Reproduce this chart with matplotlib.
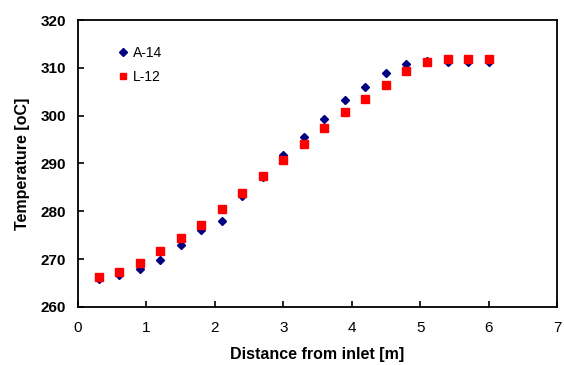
import matplotlib
matplotlib.use("Agg")
import matplotlib.pyplot as plt

distance = [0.3, 0.6, 0.9, 1.2, 1.5, 1.8, 2.1, 2.4, 2.7, 3.0,
            3.3, 3.6, 3.9, 4.2, 4.5, 4.8, 5.1, 5.4, 5.7, 6.0]
a14 = [265.8, 266.7, 267.9, 269.9, 272.9, 276.1, 278.0, 283.3, 287.2, 291.7,
       295.5, 299.2, 303.2, 306.0, 309.0, 310.9, 311.5, 311.3, 311.3, 311.3]
l12 = [266.2, 267.3, 269.2, 271.7, 274.5, 277.2, 280.4, 283.9, 287.3, 290.8,
       294.1, 297.4, 300.8, 303.5, 306.5, 309.4, 311.2, 311.9, 311.9, 311.9]

xticks = [0, 1, 2, 3, 4, 5, 6, 7]
yticks = [260, 270, 280, 290, 300, 310, 320]

plt.rcParams['font.family'] = ['Liberation Sans', 'DejaVu Sans']

fig = plt.figure(figsize=(5.64, 3.65), dpi=100)
ax = fig.add_axes([78/564, 1-307/365, (557-78)/564, (307-20)/365])

ax.plot(distance, a14, linestyle='none', marker='D', color='#000080',
        markersize=4.4, label='A-14')
ax.plot(distance, l12, linestyle='none', marker='s', color='#ff0000',
        markersize=5.4, label='L-12')

ax.set_xlim(0, 7)
ax.set_ylim(260, 320)
ax.set_xticks(xticks)
ax.set_yticks(yticks)
ax.tick_params(axis='both', direction='in', length=4, width=1.2, labelsize=11)
ax.tick_params(axis='x', pad=10)
ax.tick_params(axis='y', pad=8.5)
for lab in ax.get_yticklabels():
    lab.set_fontweight('bold')
for s in ax.spines.values():
    s.set_linewidth(1.3)
    s.set_color('black')

ax.set_xlabel('Distance from inlet [m]', fontsize=11.5, fontweight='bold', labelpad=9)
ax.set_ylabel('Temperature [oC]', fontsize=11.5, fontweight='bold', labelpad=8)

leg = ax.legend(loc='upper left', bbox_to_anchor=(0.068, 0.928), frameon=False,
                fontsize=10, handletextpad=0.2, labelspacing=0.7,
                handlelength=1.0, borderaxespad=0, markerscale=0.85)

fig.savefig('out.png', dpi=100)
